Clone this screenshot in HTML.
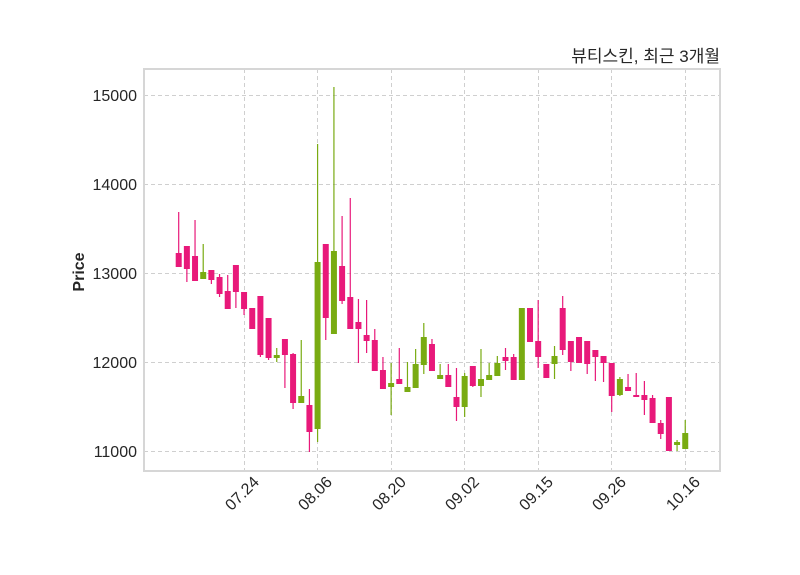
<!DOCTYPE html>
<html><head><meta charset="utf-8"><style>
body{margin:0;background:#fff;}
svg{display:block;font-family:"Liberation Sans","Noto Sans CJK KR",sans-serif;}
</style></head><body>
<svg id="s" width="800" height="575" viewBox="0 0 800 575" xmlns="http://www.w3.org/2000/svg">
<rect width="800" height="575" fill="#fff"/>
<g stroke="#cfcfcf" stroke-width="1" stroke-dasharray="4,3">
<line x1="144" x2="720" y1="95.5" y2="95.5"/>
<line x1="144" x2="720" y1="184.5" y2="184.5"/>
<line x1="144" x2="720" y1="273.5" y2="273.5"/>
<line x1="144" x2="720" y1="362.5" y2="362.5"/>
<line x1="144" x2="720" y1="451.5" y2="451.5"/>
<line x1="244.5" x2="244.5" y1="69" y2="471"/>
<line x1="317.5" x2="317.5" y1="69" y2="471"/>
<line x1="391.5" x2="391.5" y1="69" y2="471"/>
<line x1="464.5" x2="464.5" y1="69" y2="471"/>
<line x1="538.5" x2="538.5" y1="69" y2="471"/>
<line x1="611.5" x2="611.5" y1="69" y2="471"/>
<line x1="685.5" x2="685.5" y1="69" y2="471"/>
</g>
<g id="c"></g>
<rect x="144" y="69" width="576" height="402" fill="none" stroke="#d6d6d6" stroke-width="2"/>
<g font-size="16" fill="#262626" text-anchor="end">
<text x="137" y="101">15000</text>
<text x="137" y="190">14000</text>
<text x="137" y="279">13000</text>
<text x="137" y="368">12000</text>
<text x="137" y="457">11000</text>
</g>
<g font-size="16" fill="#262626" text-anchor="end">
<text transform="translate(260,483) rotate(-45)">07.24</text>
<text transform="translate(333,483) rotate(-45)">08.06</text>
<text transform="translate(407,483) rotate(-45)">08.20</text>
<text transform="translate(480,483) rotate(-45)">09.02</text>
<text transform="translate(554,483) rotate(-45)">09.15</text>
<text transform="translate(627,483) rotate(-45)">09.26</text>
<text transform="translate(701,483) rotate(-45)">10.16</text>
</g>
<text transform="translate(84,272) rotate(-90)" font-size="16" font-weight="bold" fill="#262626" text-anchor="middle">Price</text>
<text x="720" y="62" font-size="17" fill="#262626" text-anchor="end">뷰티스킨, 최근 3개월</text>
</svg>
<script>
var P="#e8197a",G="#79ab12";
var d=[
[P,212,253,267,267],[P,246,246,269,282],[P,220,256,281,281],[G,244,272,279,279],[P,270,270,280,284],
[P,274,277,294,297],[P,275,291,309,309],[P,265,265,292,308],[P,292,292,309,315],[P,308,308,329,329],
[P,296,296,355,357],[P,318,318,358,360],[G,348,355,358,362],[P,339,339,355,388],[P,353,354,403,409],
[G,340,396,403,403],[P,389,405,432,452],[G,144,262,429,442],[P,244,244,318,340],[G,87,251,334,334],
[P,216,266,301,304],[P,198,297,329,329],[P,299,322,329,363],[P,300,335,341,353],[P,329,340,371,371],
[P,357,370,389,389],[G,363,383,387,415],[P,348,379,384,384],[G,362,387,392,392],[G,349,364,388,388],
[G,323,337,365,374],[P,339,344,371,371],[G,364,375,379,379],[P,364,375,387,387],[P,368,397,407,421],
[G,373,376,407,417],[P,366,366,386,387],[G,349,379,386,397],[G,363,375,380,380],[G,356,363,376,376],
[P,348,357,361,370],[P,354,357,380,380],[G,308,308,380,380],[P,308,308,342,342],[P,300,341,357,368],
[P,364,364,378,378],[G,346,356,364,379],[P,296,308,350,355],[P,341,341,362,371],[P,337,337,363,363],
[P,341,341,364,374],[P,350,350,357,381],[P,356,356,363,382],[P,363,363,396,412],[G,377,379,395,396],
[P,374,387,391,391],[P,373,395,397,397],[P,381,395,400,415],[P,395,398,423,423],[P,420,423,434,439],
[P,397,397,451,451],[G,440,442,445,451],[G,420,433,449,449]];
var g=document.getElementById("c"),h="";
for(var i=0;i<d.length;i++){var x=178.7+i*8.17,c=d[i];
h+='<line x1="'+x+'" x2="'+x+'" y1="'+c[1]+'" y2="'+c[4]+'" stroke="'+c[0]+'" stroke-width="1.2"/>';
h+='<rect x="'+(x-3)+'" y="'+c[2]+'" width="6" height="'+Math.max(1.5,c[3]-c[2])+'" fill="'+c[0]+'"/>';}
g.innerHTML=h;
</script>
</body></html>
